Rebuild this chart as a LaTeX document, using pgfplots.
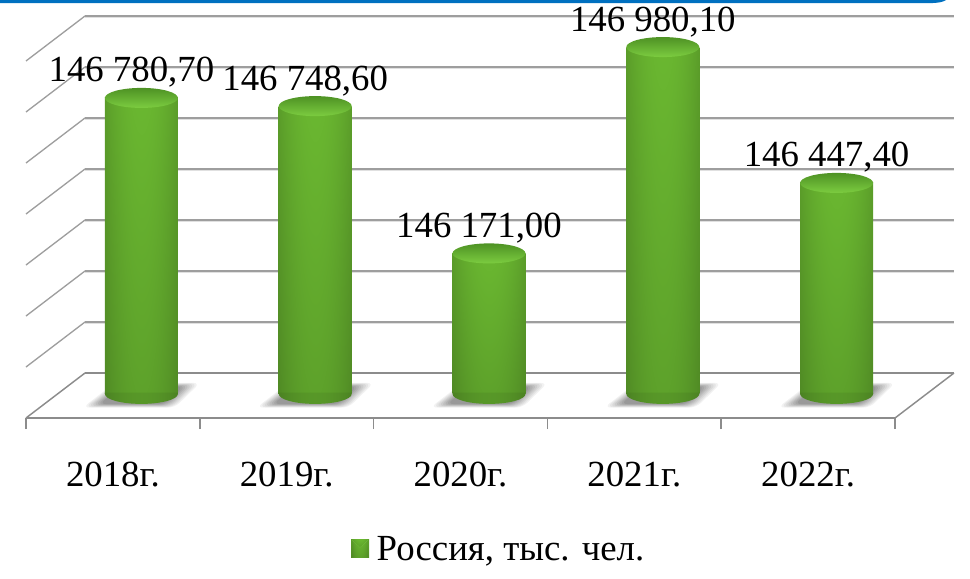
\documentclass[border=0pt]{standalone}
\usepackage{pgfplots}
\pgfplotsset{compat=1.18}
\usepackage{fontspec}
\setmainfont{Liberation Serif}
\pgfdeclarefunctionalshading{barshade}{\pgfpoint{-50bp}{-50bp}}{\pgfpoint{50bp}{50bp}}{}{
  50 add 100 div exch 50 div abs dup mul neg 0.58 mul 1 add exch 0.22 mul 0.78 add mul
  dup 0.44 mul exch dup 0.76 mul exch 0.20 mul
}
\pgfdeclarefunctionalshading{barlow}{\pgfpoint{-50bp}{-50bp}}{\pgfpoint{50bp}{50bp}}{}{
  pop 50 div abs dup mul neg 0.58 mul 1 add 0.78 mul
  dup 0.44 mul exch dup 0.76 mul exch 0.20 mul
}
\definecolor{gridc}{RGB}{158,158,158}
\definecolor{gridsh}{RGB}{224,224,224}
\definecolor{axc}{RGB}{140,140,140}
\definecolor{topA}{RGB}{78,146,36}
\definecolor{topB}{RGB}{96,170,44}
\definecolor{topC}{RGB}{124,204,64}
\pgfdeclareplotmark{cyltop}{%
  \shade[draw=none,rotate=3,top color=topA,middle color=topB,bottom color=topC] (0pt,0pt) ellipse (27.375pt and 7.5pt);}
\pgfdeclareplotmark{cylbot}{%
  \path[draw=none,shade,shading=barlow] (-27.375pt,1pt) -- (-27.375pt,0pt)
     arc[start angle=180,end angle=360,x radius=27.375pt,y radius=7.5pt]
     -- (27.375pt,1pt) -- cycle;}
\newcommand{\shadowshape}[2]{%
  \fill[draw=none,black!#2,rounded corners=5pt]
    ({-20pt*#1},{9pt*#1-0.75pt}) -- ({44pt*#1},{9pt*#1-0.75pt}) -- ({25pt*#1},{-9.5pt*#1-0.75pt}) -- ({-44pt*#1},{-9.5pt*#1-0.75pt}) -- cycle;}
\pgfdeclareplotmark{cylshadow}{%
  \shadowshape{1.00}{5}\shadowshape{0.96}{10}\shadowshape{0.92}{15}\shadowshape{0.88}{20}
  \shadowshape{0.84}{25}\shadowshape{0.80}{30}\shadowshape{0.76}{35}\shadowshape{0.72}{40}}
\pgfplotsset{frameaxis/.style={
  at={(0pt,3.825pt)}, anchor=south west,
  scale only axis, width=651.75pt, height=263.925pt,
  clip=false,
  xmin=-0.5, xmax=4.5, ymin=145620, ymax=147000}}
\begin{document}
\begin{tikzpicture}
\useasboundingbox (-19.5pt,-120pt) rectangle (708pt,313.5pt);
\fill[color={rgb,255:red,0;green,112;blue,192}] (-19.5pt,313.5pt) -- (690pt,313.5pt)
   .. controls (688pt,312pt) and (684pt,311.2pt) .. (678pt,311.2pt) -- (-19.5pt,311.2pt) -- cycle;
% first axis: the floor shadows, which lie beneath everything else
\begin{axis}[frameaxis,hide axis]
\addplot[forget plot,only marks,mark=cylshadow,xshift=21.375pt,yshift=14.25pt]
  coordinates {(0,145620) (1,145620) (2,145620) (3,145620) (4,145620)};
\end{axis}
\begin{axis}[
  frameaxis,
  axis y line=none, axis x line=bottom,
  x axis line style={-,color=axc,line width=1.1pt,yshift=-3.825pt},
  xtick={-0.5,0.5,1.5,2.5,3.5,4.5}, xticklabels={},
  tick align=outside, major tick length=8.25pt,
  xtick style={color=axc,line width=1.1pt,yshift=-3.825pt},
  extra x ticks={0,1,2,3,4},
  extra x tick labels={2018г.,2019г.,2020г.,2021г.,2022г.},
  extra x tick style={major tick length=0pt,
    tick label style={anchor=center,yshift=-46.575pt,
      font=\fontsize{27.6pt}{30pt}\selectfont}},
  legend style={at={(0.5443,-0.3868)},anchor=center,draw=none,fill=none,
    font=\fontsize{27.6pt}{30pt}\selectfont,inner sep=0pt,outer sep=0pt},
  legend image code/.code={
    \begin{scope}[shift={(-1.5pt,-13.5pt)}]
    \fill[color={rgb,255:red,62;green,120;blue,34}] (0pt,-6.75pt) rectangle (13.5pt,6.75pt);
    \fill[color={rgb,255:red,98;green,170;blue,48}] (0.8pt,-6pt) rectangle (12.7pt,6pt);
    \fill[color={rgb,255:red,150;green,222;blue,96}] (0.8pt,6pt) -- (12.7pt,6pt) -- (6.75pt,0.5pt) -- cycle;
    \end{scope}
  },
]
% back wall gridlines, with their soft shadow
\pgfplotsinvokeforeach{145800,146000,146200,146400,146600,146800,147000}{
  \addplot[forget plot,gridsh,line width=1.1pt,xshift=44.25pt,yshift=32.6pt] coordinates {(-0.5,#1) (4.5,#1)};
  \addplot[forget plot,gridc,line width=1.1pt,xshift=44.25pt,yshift=33.75pt] coordinates {(-0.5,#1) (4.5,#1)};
}
% left wall lines
\addplot[forget plot,gridc,line width=1pt] coordinates {(-0.5,145800) (-0.1605,145976.47)};
\addplot[forget plot,gridc,line width=1pt] coordinates {(-0.5,146000) (-0.1605,146176.47)};
\addplot[forget plot,gridc,line width=1pt] coordinates {(-0.5,146200) (-0.1605,146376.47)};
\addplot[forget plot,gridc,line width=1pt] coordinates {(-0.5,146400) (-0.1605,146576.47)};
\addplot[forget plot,gridc,line width=1pt] coordinates {(-0.5,146600) (-0.1605,146776.47)};
\addplot[forget plot,gridc,line width=1pt] coordinates {(-0.5,146800) (-0.1605,146976.47)};
\addplot[forget plot,gridc,line width=1pt] coordinates {(-0.5,147000) (-0.1605,147176.47)};
% floor
\addplot[forget plot,axc,line width=1.1pt,xshift=44.25pt,yshift=33.75pt] coordinates {(-0.5,145600) (4.5,145600)};
\addplot[forget plot,axc,line width=1.1pt] coordinates {(-0.5,145600) (-0.1605,145776.47)};
\addplot[forget plot,axc,line width=1.1pt] coordinates {(4.5,145600) (4.8395,145776.47)};
% cylinder bodies: one plot per bar, so that each has its own shading
\pgfplotsset{cyl/.style={ybar,bar width=54.75pt,bar shift=0pt,draw=none,shade,shading=barshade,xshift=21.375pt,yshift=14.25pt}}
\addplot[cyl] coordinates {(0,146780.7)};
\addlegendentry{\hspace{3.75pt}Россия, тыс. чел.}
\addplot[cyl,forget plot] coordinates {(1,146748.6)};
\addplot[cyl,forget plot] coordinates {(2,146171.0)};
\addplot[cyl,forget plot] coordinates {(3,146980.1)};
\addplot[cyl,forget plot] coordinates {(4,146447.4)};
\addplot[forget plot,only marks,mark=cylbot,xshift=21.375pt,yshift=14.25pt]
  coordinates {(0,145620) (1,145620) (2,145620) (3,145620) (4,145620)};
% cylinder tops and value labels
\addplot[forget plot,only marks,mark=cyltop,xshift=21.375pt,yshift=14.25pt,
  point meta=explicit symbolic,
  nodes near coords,
  nodes near coords style={anchor=center,xshift=-7.5pt,yshift=19pt,text=black,
    font=\fontsize{27.6pt}{30pt}\selectfont}]
  coordinates {
    (0,146780.7) [146 780,70]
    (1,146748.6) [146 748,60]
    (2,146171.0) [146 171,00]
    (3,146980.1) [146 980,10]
    (4,146447.4) [146 447,40]
  };
\end{axis}
\end{tikzpicture}
\end{document}
